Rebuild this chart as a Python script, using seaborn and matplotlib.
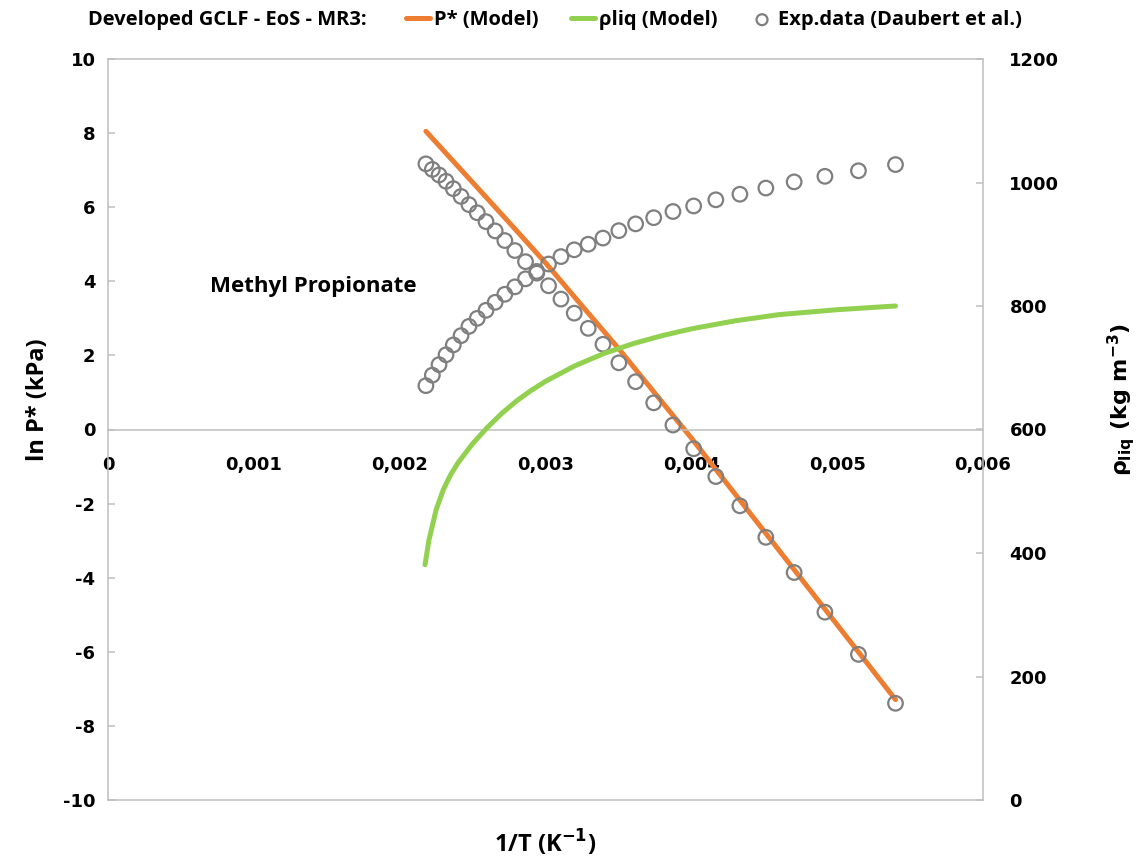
import matplotlib
matplotlib.use("Agg")
import matplotlib.pyplot as plt
import seaborn as sns
import pandas as pd
from matplotlib.ticker import FuncFormatter, MultipleLocator

# ---------------- data ----------------
exp_inv_T = [0.002180, 0.002224, 0.002270, 0.002318, 0.002368, 0.002421, 0.002475,
             0.002532, 0.002592, 0.002655, 0.002721, 0.002790, 0.002863, 0.002940,
             0.003021, 0.003106, 0.003197, 0.003293, 0.003394, 0.003503, 0.003618,
             0.003742, 0.003874, 0.004016, 0.004168, 0.004333, 0.004511, 0.004705,
             0.004916, 0.005146, 0.005400]
exp_lnP = [7.17, 7.02, 6.87, 6.70, 6.50, 6.29, 6.07, 5.85, 5.61, 5.36, 5.10, 4.83,
           4.53, 4.22, 3.88, 3.52, 3.14, 2.73, 2.30, 1.80, 1.29, 0.72, 0.12, -0.52,
           -1.27, -2.06, -2.91, -3.86, -4.93, -6.07, -7.39]
exp_rho = [671, 688, 705, 721, 737, 752, 767, 780, 793, 806, 819, 831, 844, 856,
           868, 880, 891, 900, 910, 922, 933, 943, 953, 962, 972, 981, 991, 1001,
           1010, 1019, 1029]

model_P_inv_T = [0.00218, 0.0025, 0.00275, 0.003, 0.00325, 0.0035, 0.00375, 0.004,
                 0.00425, 0.0045, 0.00475, 0.005, 0.0054]
model_lnP = [8.05, 6.67, 5.59, 4.50, 3.34, 2.19, 0.98, -0.23, -1.49, -2.75, -4.01,
             -5.27, -7.29]

model_rho_inv_T = [0.002174, 0.0022, 0.00225, 0.0023, 0.00235, 0.0024, 0.0025,
                   0.0026, 0.0027, 0.0028, 0.0029, 0.003, 0.0032, 0.0034, 0.0036,
                   0.0038, 0.004, 0.0043, 0.0046, 0.005, 0.0054]
model_rho = [381, 420, 470, 503, 527, 546, 577, 603, 626, 646, 663, 678, 703, 723,
             739, 752, 763, 776, 786, 794, 800]

legend_prefix = "Developed GCLF - EoS - MR3:"
compound = "Methyl Propionate"

# ---------------- style ----------------
sns.set_style("white")
plt.rcParams['font.family'] = ['DejaVu Sans']
plt.rcParams['text.color'] = 'black'
plt.rcParams['axes.labelcolor'] = 'black'
plt.rcParams['mathtext.fontset'] = 'custom'
plt.rcParams['mathtext.rm'] = 'DejaVu Sans:bold'
plt.rcParams['mathtext.it'] = 'DejaVu Sans:bold'
plt.rcParams['mathtext.bf'] = 'DejaVu Sans:bold'

ORANGE = '#ED7D31'
GREEN = '#92D050'
GREY = '#7F7F7F'
FRAME = '#BFBFBF'
LBL = ['Open Sans', 'DejaVu Sans']

fig = plt.figure(figsize=(11.45, 8.61), dpi=100)
ax = fig.add_axes([108/1145, 1-800/861, 875/1145, 741/861])
ax2 = ax.twinx()

df_exp = pd.DataFrame({'x': exp_inv_T, 'lnP': exp_lnP, 'rho': exp_rho})
df_mp = pd.DataFrame({'x': model_P_inv_T, 'lnP': model_lnP})
df_mr = pd.DataFrame({'x': model_rho_inv_T, 'rho': model_rho})

sns.lineplot(data=df_mp, x='x', y='lnP', ax=ax, color=ORANGE, lw=3.6, sort=False,
             label='P* (Model)', legend=False)
sns.scatterplot(data=df_exp, x='x', y='lnP', ax=ax, marker='o', s=110,
                facecolor='none', edgecolor=GREY, linewidth=1.6, zorder=3, legend=False)
sns.lineplot(data=df_mr, x='x', y='rho', ax=ax2, color=GREEN, lw=3.6, sort=False,
             label='ρliq (Model)', legend=False)
sns.scatterplot(data=df_exp, x='x', y='rho', ax=ax2, marker='o', s=110,
                facecolor='none', edgecolor=GREY, linewidth=1.6, zorder=3,
                label='Exp.data (Daubert et al.)', legend=False)

# axes limits/ticks
ax.set_xlim(0, 0.006)
ax.set_ylim(-10, 10)
ax2.set_ylim(0, 1200)
ax.xaxis.set_major_locator(MultipleLocator(0.001))
ax.yaxis.set_major_locator(MultipleLocator(2))
ax2.yaxis.set_major_locator(MultipleLocator(200))
ax.xaxis.set_major_formatter(FuncFormatter(
    lambda v, p: '0' if abs(v) < 1e-12 else f'{v:.3f}'.replace('.', ',')))
ax.yaxis.set_major_formatter(FuncFormatter(lambda v, p: f'{v:.0f}'))

for sp in ['top', 'right']:
    ax.spines[sp].set_visible(False)
ax.spines['bottom'].set_position(('data', 0))
ax.spines['left'].set_color(FRAME)
ax.spines['bottom'].set_color(FRAME)
ax.spines['left'].set_linewidth(1.1)
ax.spines['bottom'].set_linewidth(1.1)
ax2.spines['left'].set_visible(False)
for sp in ['top', 'right', 'bottom']:
    ax2.spines[sp].set_color(FRAME)
    ax2.spines[sp].set_linewidth(1.1)

ax.tick_params(axis='x', direction='in', length=5, width=1.1, color=FRAME,
               pad=19, labelsize=13, labelcolor='black')
ax.tick_params(axis='y', direction='in', length=5, width=1.1, color=FRAME,
               pad=9, labelsize=13, labelcolor='black')
ax2.tick_params(axis='y', direction='in', length=5, width=1.1, color=FRAME,
                pad=19, labelsize=13, labelcolor='black')
ax2.tick_params(axis='x', which='both', bottom=False, top=False,
                labelbottom=False, labeltop=False)
for t in ax.get_xticklabels() + ax.get_yticklabels() + ax2.get_yticklabels():
    t.set_fontweight('bold')
ax2.set_xlabel('')

# labels
ax.set_xlabel(r'1/T (K$^{-1}$)', fontsize=17, fontweight='bold', family=LBL,
              color='black')
ax.xaxis.set_label_coords(0.5, -0.038)
ax.set_ylabel('ln P* (kPa)', fontsize=17, fontweight='bold', family=LBL,
              color='black')
ax.yaxis.set_label_coords(-0.066, 0.54)
ax2.set_ylabel(r'$\rho_{\mathrm{liq}}$ (kg m$^{\mathrm{-3}}$)', fontsize=16,
               fontweight='bold', family=['DejaVu Sans'], rotation=90,
               color='black')
ax2.yaxis.set_label_coords(1.139, 0.54)

ax.text(0.0007, 3.85, compound, fontsize=16, fontweight='bold', family=LBL,
        ha='left', va='center', color='black')

# legend
fig.text(88/1145, 1-20/861, legend_prefix, fontsize=14.5, fontweight='bold',
         family=LBL, ha='left', va='center', color='black')
h1, l1 = ax.get_legend_handles_labels()
h2, l2 = ax2.get_legend_handles_labels()
leg = fig.legend(h1 + h2, l1 + l2, loc='center left',
                 bbox_to_anchor=(388/1145, 1-20/861), ncol=3, frameon=False,
                 handlelength=1.2, handletextpad=0.2, columnspacing=1.6,
                 markerscale=0.75, labelcolor='black',
                 prop={'family': LBL, 'weight': 'bold', 'size': 14.5})

fig.savefig('out.png', dpi=100)
